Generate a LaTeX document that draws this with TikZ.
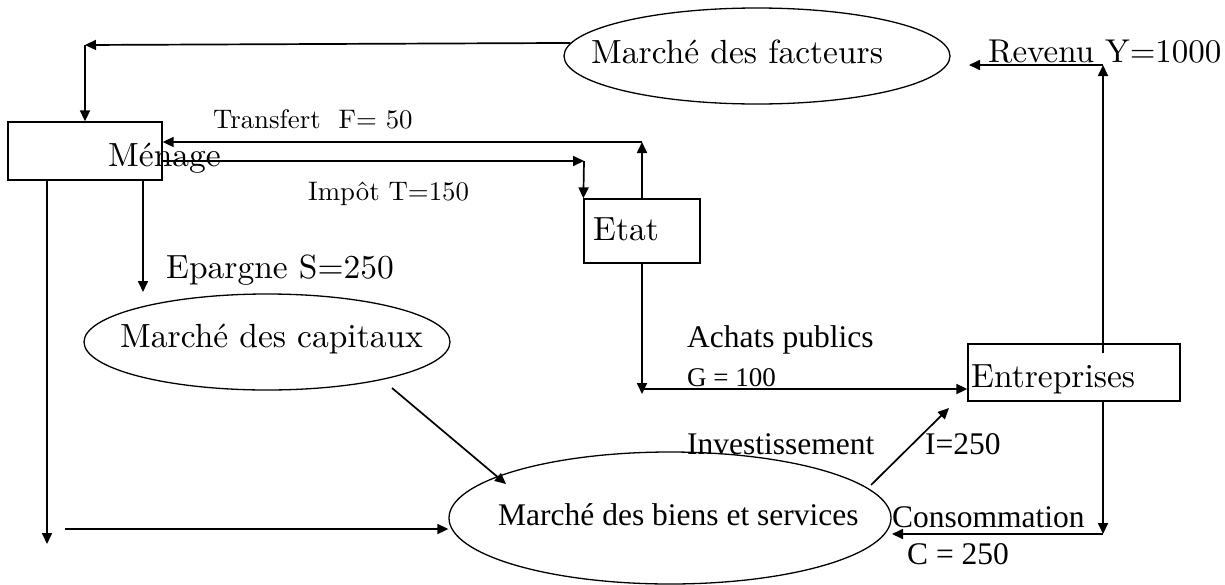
\documentclass[tikz,border=0pt]{standalone}
\usepackage{fontspec}
\setmainfont{lmroman10-regular.otf}
\newfontfamily\tnr{Liberation Serif}
\usetikzlibrary{shapes.geometric,arrows.meta,calc}
\tikzset{
  arr/.style={line width=1.7pt,-{Triangle[length=11pt,width=10pt]}},
  boxn/.style={draw,line width=1.3pt,rectangle,inner sep=0pt},
  ell/.style={draw,line width=1.3pt,ellipse,inner sep=0pt},
  txt/.style={inner sep=0pt,anchor=base west},
  lmbig/.style={font=\fontsize{33.5}{40}\selectfont},
  lmsmall/.style={font=\fontsize{26.8}{32}\selectfont},
  tbig/.style={font=\tnr\fontsize{31.5}{38}\selectfont},
  tsmall/.style={font=\tnr\fontsize{27}{32}\selectfont},
}
\begin{document}
\begin{tikzpicture}[x=1pt,y=-1pt]
\useasboundingbox (0,0) rectangle (1225,584);
% shapes
\node[ell,minimum width=386pt,minimum height=96pt] (facteurs) at (757,56) {};
\node[ell,minimum width=366pt,minimum height=96pt] (capitaux) at (267,342) {};
\node[ell,minimum width=442pt,minimum height=132pt] (biens) at (670,518) {};
\node[boxn,minimum width=154pt,minimum height=58pt] (menage) at (85,151) {};
\node[boxn,minimum width=116pt,minimum height=64pt] (etat) at (642,231) {};
\node[boxn,minimum width=212pt,minimum height=57pt] (entr) at (1074,372.5) {};
% texts
\node[txt,lmbig] (tfact) at (591,63) {Marché des facteurs};
\node[txt,lmbig] (tcap) at (120,347) {Marché des capitaux};
\node[txt,tbig] (tbiens) at (498,525) {Marché des biens et services};
\node[txt,lmbig] (tmen) at (108,166) {Ménage};
\node[txt,lmbig] (tetat) at (593,240) {Etat};
\node[txt,lmbig] (tentr) at (971,387) {Entreprises};
\node[txt,font=\fontsize{33}{40}\selectfont] (trev) at (988,62) {Revenu Y=1000};
\node[txt,lmsmall] (ttrans) at (213,128) {Transfert\ \ F= 50};
\node[txt,lmsmall] (timp) at (308,200) {Impôt T=150};
\node[txt,lmbig] (tepar) at (166,278) {Epargne S=250};
\node[txt,tbig] (tach) at (687,347) {Achats publics};
\node[txt,tsmall] (tg) at (687,386) {G = 100};
\node[txt,tbig] (tinv) at (687,454) {Investissement};
\node[txt,tbig] (ti) at (925,454) {I=250};
\node[txt,tbig] (tcons) at (892,527) {Consommation};
\node[txt,tbig] (tc) at (907,564) {C = 250};
% coordinates
\coordinate (c1) at (85,45);
\coordinate (c2) at (642,142);
\coordinate (c3) at (584,161);
\coordinate (e1) at (143,292);
\coordinate (l1) at (47,544);
\coordinate (l2) at (65,529);
\coordinate (k1) at (392,388);
\coordinate (k2) at (506,484);
\coordinate (g1) at (642,394);
\coordinate (g2) at (642,389);
\coordinate (v1) at (871,485);
\coordinate (v2) at (949,408);
\coordinate (r1) at (1103,65);
\coordinate (r2) at (969,65);
\coordinate (d1) at (1103,534);
\coordinate (d2) at (892,534);
% connectors
\draw[arr] (facteurs.176.7) -- (c1);
\draw[arr] (c1) -- (menage.north);
\draw[arr] (etat.north) -- (c2);
\draw[arr] (c2) -- (menage.east |- c2);
\draw[arr] (menage.east |- c3) -- (c3);
\draw[arr] (c3) -- (etat.north west);
\draw[arr] (menage.south -| e1) -- (e1);
\draw[arr] (menage.south -| l1) -- (l1);
\draw[arr] (l2) -- (biens.west |- l2);
\draw[arr] (k1) -- (k2);
\draw[arr] (etat.south) -- (g1);
\draw[arr] (g2) -- (entr.west |- g2);
\draw[arr] (v1) -- (v2);
\draw[arr] ($(entr.north -| r1)+(0,10)$) -- (r1);
\draw[arr] (r1) -- (r2);
\draw[arr] (entr.south -| d1) -- (d1);
\draw[arr] (d1) -- (d2);
\end{tikzpicture}
\end{document}
